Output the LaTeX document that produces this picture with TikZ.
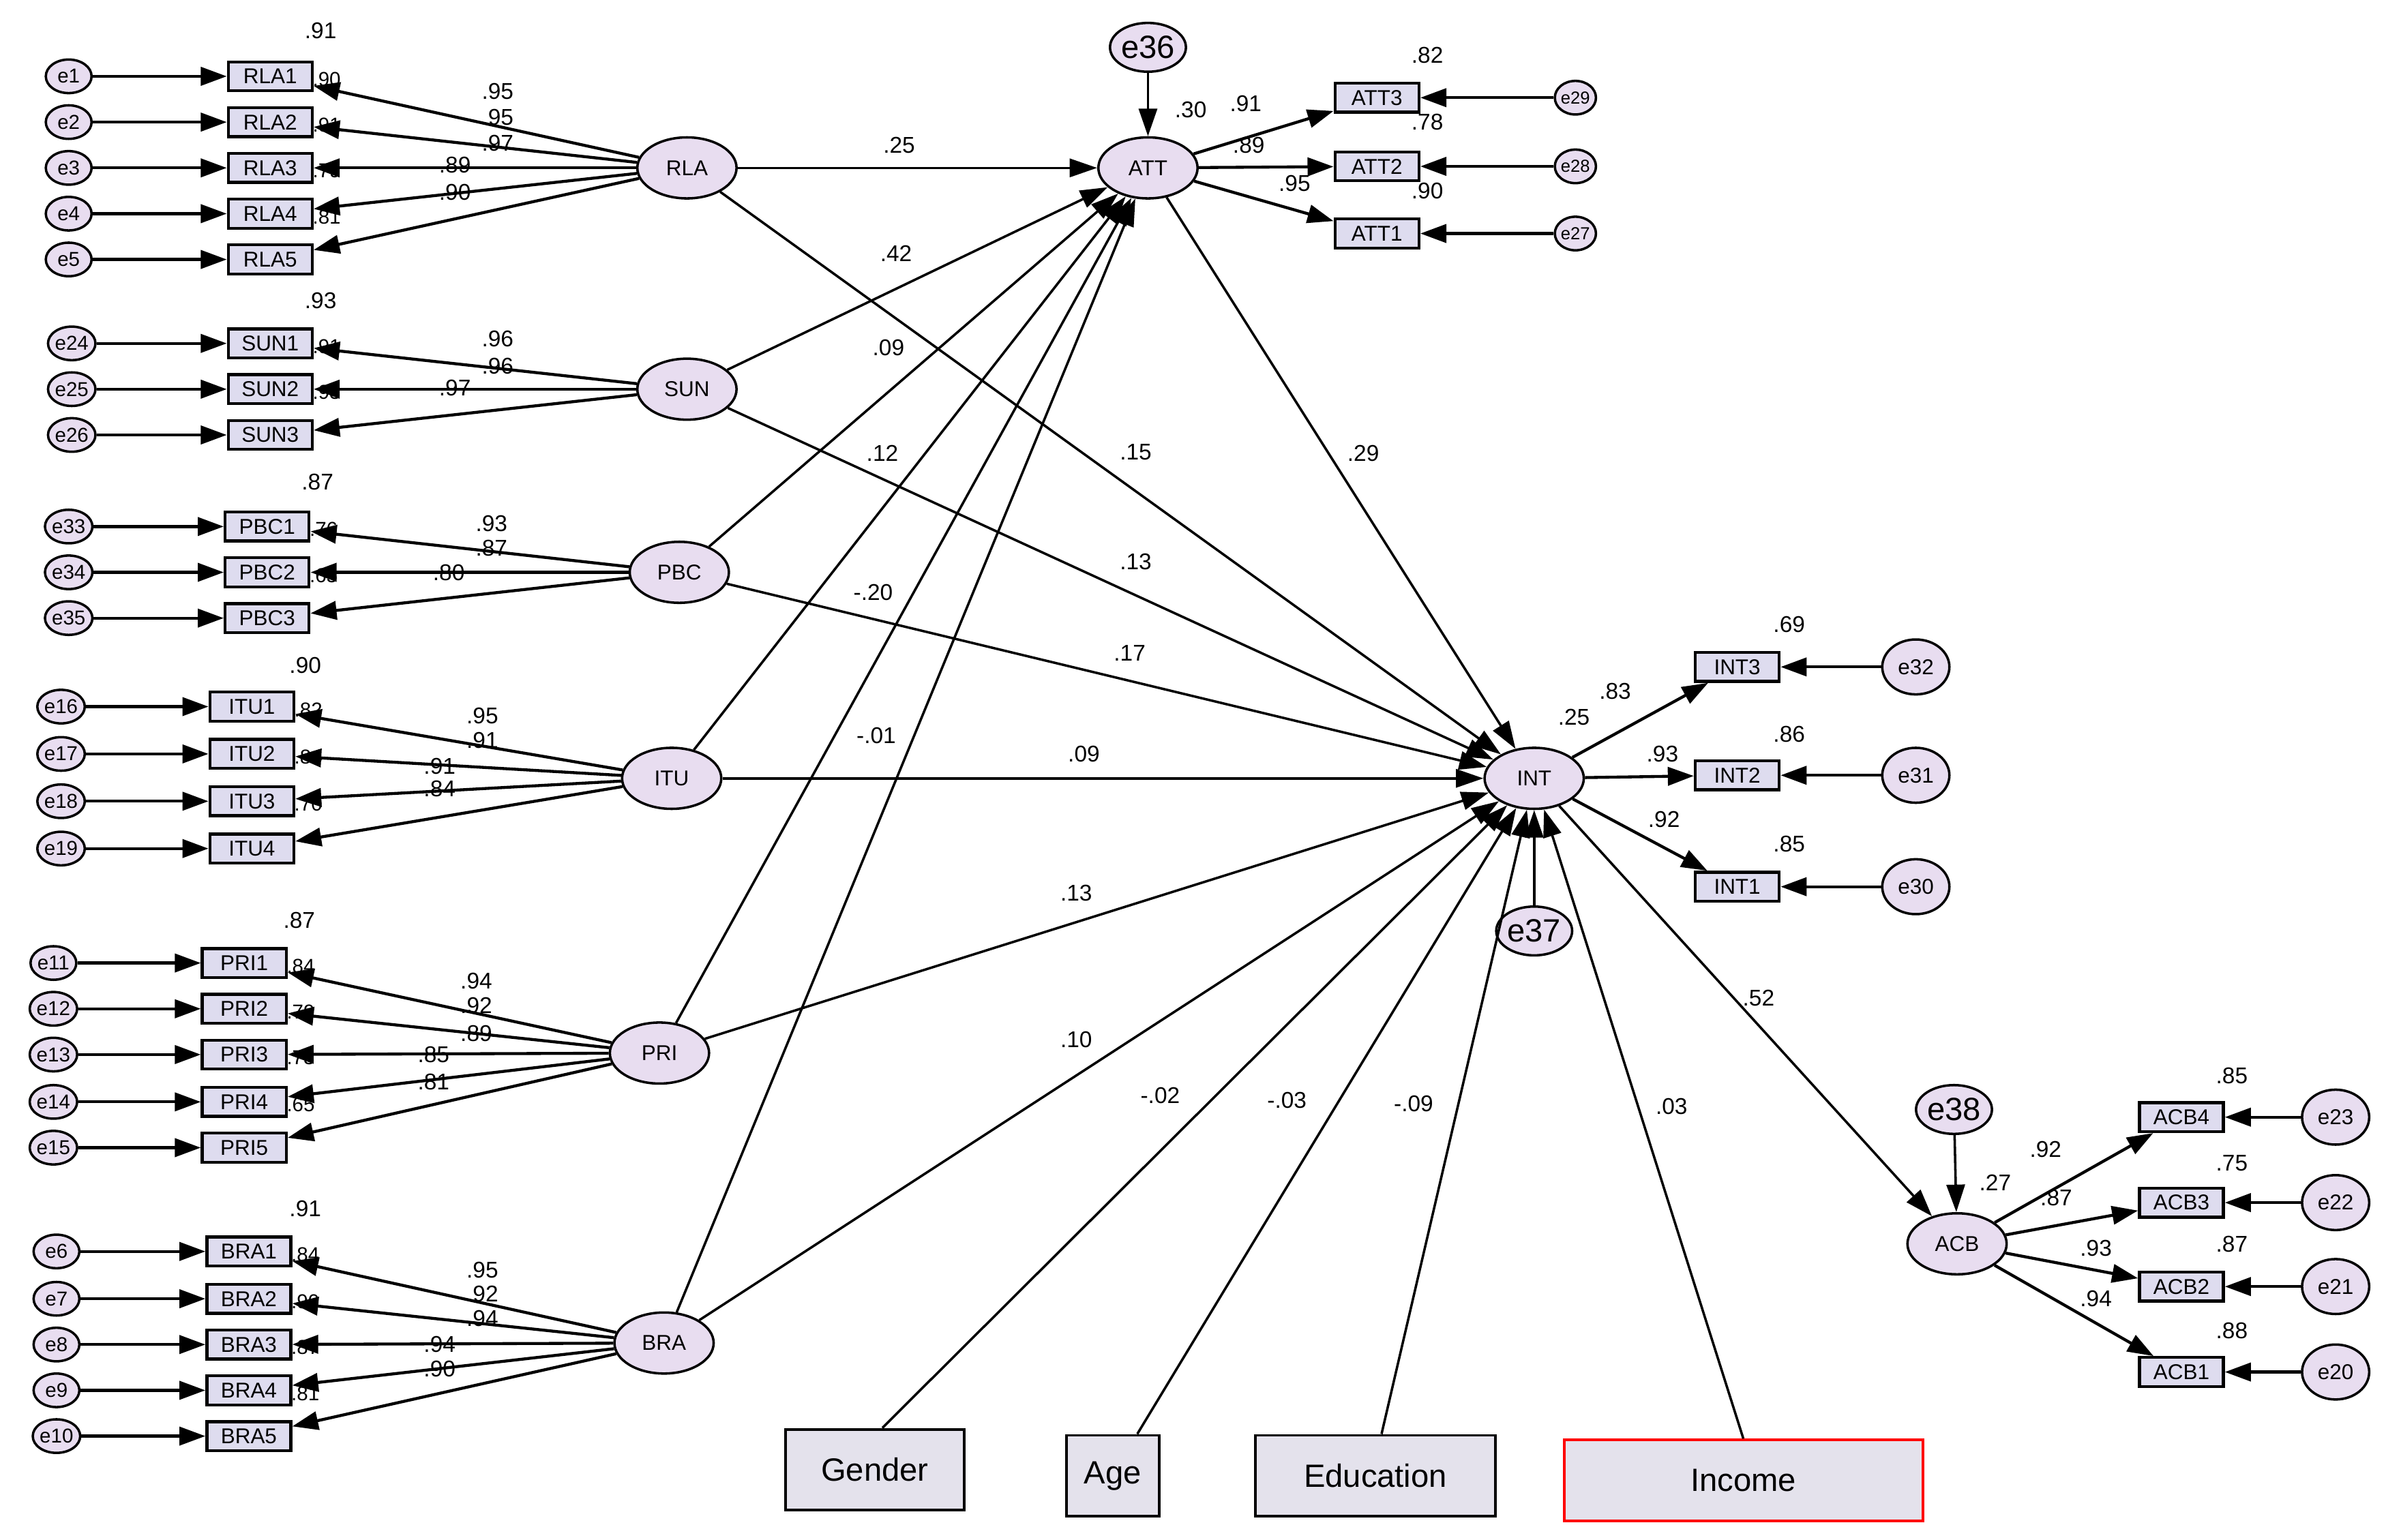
\documentclass[tikz,border=0pt]{standalone}
\usepackage{fontspec}
\setmainfont{Liberation Sans}
\usetikzlibrary{arrows.meta,shapes.geometric}
\definecolor{lat}{HTML}{E8DDF0}
\definecolor{obs}{HTML}{DEDCEF}
\definecolor{bot}{HTML}{E4E2EC}
\begin{document}
\begin{tikzpicture}[x=0.02cm,y=-0.02cm,
 lv/.style={ellipse,draw,line width=0.9pt,fill=lat,minimum width=1.3cm,minimum height=0.8cm,inner sep=0pt,font=\fontsize{8}{8}\selectfont},
 box/.style={rectangle,draw,line width=1.1pt,fill=obs,minimum width=1.1cm,minimum height=0.38cm,inner sep=0pt,font=\fontsize{8}{8}\selectfont},
 err/.style={ellipse,draw,line width=0.9pt,fill=lat,minimum width=0.6cm,minimum height=0.44cm,inner sep=0pt,font=\fontsize{7.5}{7.5}\selectfont},
 errb/.style={ellipse,draw,line width=0.9pt,fill=lat,minimum width=0.88cm,minimum height=0.72cm,inner sep=0pt,font=\fontsize{8}{8}\selectfont},
 errs/.style={ellipse,draw,line width=0.9pt,fill=lat,minimum width=0.46cm,minimum height=0.44cm,inner sep=0pt,font=\fontsize{6.5}{6.5}\selectfont},
 erre/.style={ellipse,draw,line width=0.9pt,fill=lat,minimum width=0.92cm,minimum height=0.64cm,inner sep=0pt,font=\fontsize{12}{12}\selectfont},
 bbox/.style={rectangle,draw,line width=1pt,fill=bot,inner sep=0pt,font=\fontsize{12}{12}\selectfont},
 arr/.style={-{Triangle[length=0.34cm,width=0.24cm]},line width=1.1pt},
 pth/.style={-{Triangle[length=0.36cm,width=0.24cm]},line width=0.9pt},
 lb/.style={font=\fontsize{8.5}{8.5}\selectfont,inner sep=0pt}]
\useasboundingbox (0,0) rectangle (1563,1009);
\fill[white] (0,0) rectangle (1563,1009);
% latent variables
\node[lv] (RLA) at (450,110) {RLA};
\node[lv] (ATT) at (752,110) {ATT};
\node[lv] (SUN) at (450,255) {SUN};
\node[lv] (PBC) at (445,375) {PBC};
\node[lv] (ITU) at (440,510) {ITU};
\node[lv] (INT) at (1005,510) {INT};
\node[lv] (PRI) at (432,690) {PRI};
\node[lv] (BRA) at (435,880) {BRA};
\node[lv] (ACB) at (1282,815) {ACB};
\node[erre] (e36) at (752,31) {e36};
\node[erre] (e37) at (1005,610) {e37};
\node[erre] (e38) at (1280,727) {e38};
% bottom boxes
\node[bbox,minimum width=2.34cm,minimum height=1.06cm] (Gender) at (573,963) {Gender};
\node[bbox,minimum width=1.22cm,minimum height=1.06cm] (Age) at (729,967) {Age};
\node[bbox,minimum width=3.14cm,minimum height=1.06cm] (Edu) at (901,967) {Education};
\node[bbox,draw=red,minimum width=4.7cm,minimum height=1.06cm] (Income) at (1142,970) {Income};
% left measurement models
\foreach \lv/\bx/\ex/\lst in {
 RLA/177/45/{RLA1/e1/50,RLA2/e2/80,RLA3/e3/110,RLA4/e4/140,RLA5/e5/170},
 SUN/177/47/{SUN1/e24/225,SUN2/e25/255,SUN3/e26/285},
 PBC/175/45/{PBC1/e33/345,PBC2/e34/375,PBC3/e35/405},
 ITU/165/40/{ITU1/e16/463,ITU2/e17/494,ITU3/e18/525,ITU4/e19/556},
 PRI/160/35/{PRI1/e11/631,PRI2/e12/661,PRI3/e13/691,PRI4/e14/722,PRI5/e15/752},
 BRA/163/37/{BRA1/e6/820,BRA2/e7/851,BRA3/e8/881,BRA4/e9/911,BRA5/e10/941}}{
 \foreach \n/\e/\y in \lst {
  \node[box] (\n) at (\bx,\y) {\n};
  \node[err] (\e) at (\ex,\y) {\e};
  \draw[arr] (\e) -- (\n);
  \draw[arr] (\lv) -- (\n);
 }
}
% ATT indicators
\foreach \n/\e/\y in {ATT3/e29/64,ATT2/e28/109,ATT1/e27/153}{
 \node[box] (\n) at (902,\y) {\n};
 \node[errs] (\e) at (1032,\y) {\e};
 \draw[arr] (\e) -- (\n);
 \draw[arr] (ATT) -- (\n);
}
\foreach \n/\e/\y in {INT3/e32/437,INT2/e31/508,INT1/e30/581}{
 \node[box] (\n) at (1138,\y) {\n};
 \node[errb] (\e) at (1255,\y) {\e};
 \draw[arr] (\e) -- (\n);
 \draw[arr] (INT) -- (\n);
}
\foreach \n/\e/\y in {ACB4/e23/732,ACB3/e22/788,ACB2/e21/843,ACB1/e20/899}{
 \node[box] (\n) at (1429,\y) {\n};
 \node[errb] (\e) at (1530,\y) {\e};
 \draw[arr] (\e) -- (\n);
 \draw[arr] (ACB) -- (\n);
}
% structural paths
\foreach \s in {RLA,SUN,PBC,ITU,PRI,BRA}{
 \draw[pth] (\s) -- (ATT);
 \draw[pth] (\s) -- (INT);
}
\draw[pth] (ATT) -- (INT);
\draw[pth] (INT) -- (ACB);
\draw[pth] (e36) -- (ATT);
\draw[pth] (e37) -- (INT);
\draw[pth] (e38) -- (ACB);
\draw[pth] (Gender.north) ++(5,0) coordinate (g1) (g1) -- (INT);
\draw[pth] (Age.north) ++(16,0) coordinate (a1) (a1) -- (INT);
\draw[pth] (Edu.north) ++(4,0) coordinate (d1) (d1) -- (INT);
\draw[pth] (Income.north) -- (INT);
% labels
\foreach \t/\x/\y in {.25/589/95,.42/587/166,.09/582/228,.12/578/297,-.20/572/388,-.01/574/482,
 .15/744/296,.13/744/368,.17/740/428,.09/710/494,.13/705/585,.10/705/681,-.02/760/718,-.03/843/721,-.09/926/723,.03/1095/725,
 .29/893/297,.52/1152/654,.30/780/72,.25/1031/470,.27/1307/775,
 .91/816/68,.89/818/95,.95/848/120,.82/935/36,.78/935/80,.90/935/125,
 .83/1058/453,.93/1089/494,.92/1090/537,.69/1172/409,.86/1172/481,.85/1172/553,
 .92/1340/753,.87/1347/785,.93/1373/818,.94/1373/851,.85/1462/705,.75/1462/762,.87/1462/815,.88/1462/872,
 .95/326/60,.95/326/77,.97/326/94,.89/298/108,.90/298/126,.91/210/20,
 .96/326/222,.96/326/240,.97/298/254,.93/210/197,
 .93/322/343,.87/322/359,.80/294/375,.87/208/316,
 .95/316/469,.91/316/485,.91/288/502,.84/288/517,.90/200/436,
 .94/312/643,.92/312/659,.89/312/677,.85/284/691,.81/284/709,.87/196/603,
 .95/316/832,.92/316/848,.94/316/864,.94/288/881,.90/288/897,.91/200/792}{
 \node[lb] at (\x,\y) {\t};
}
% partly hidden r-squared values beside boxes
\foreach \t/\x/\y in {.90/214/52,.91/214/82,.79/214/112,.81/214/142,
 .91/214/227,.93/214/257,.76/212/347,.65/212/377,
 .82/202/465,.84/202/496,.70/202/527,
 .84/197/633,.79/197/663,.73/197/693,.65/197/724,
 .84/200/822,.90/200/853,.87/200/883,.81/200/913}{
 \node[lb,font=\fontsize{7.5}{7.5}\selectfont] at (\x,\y) {\t};
}
\end{tikzpicture}
\end{document}
